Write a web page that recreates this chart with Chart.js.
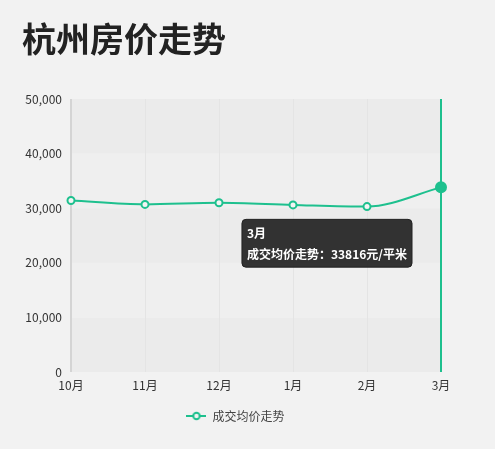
<!DOCTYPE html>
<html>
<head>
<meta charset="utf-8">
<script src="https://cdn.jsdelivr.net/npm/chart.js@4/dist/chart.umd.min.js"></script>
<style>
  body { margin: 0; background: #f2f2f2; }
  #wrap { position: relative; width: 495px; height: 449px; }
  #title {
    position: absolute; left: 22px; top: 18px; margin: 0;
    font: bold 34px "Noto Sans CJK SC", sans-serif; color: #222; line-height: 1.2;
  }
  #chart { position: absolute; left: 0; top: 0; }
</style>
</head>
<body>
<div id="wrap">
  <canvas id="chart" width="495" height="449"></canvas>
  <h1 id="title">杭州房价走势</h1>
</div>
<script>
const months = ["10月", "11月", "12月", "1月", "2月", "3月"];
const avgPrice = [31400, 30700, 31000, 30600, 30300, 33816];
const yTicks = [0, 10000, 20000, 30000, 40000, 50000];
const seriesName = "成交均价走势";
const unit = "元/平米";
const activeIndex = 5;

const green = "#1ec08e";
const font = "'Noto Sans CJK SC', sans-serif";

// legend icon: short line with a hollow circle
function legendIcon() {
  const c = document.createElement("canvas");
  c.width = 20;
  c.height = 10;
  const g = c.getContext("2d");
  g.strokeStyle = green;
  g.lineWidth = 2;
  g.beginPath();
  g.moveTo(0, 5); g.lineTo(6, 5);
  g.moveTo(14, 5); g.lineTo(20, 5);
  g.stroke();
  g.beginPath();
  g.arc(10, 5, 3.2, 0, Math.PI * 2);
  g.fillStyle = "#f2f2f2";
  g.fill();
  g.stroke();
  return c;
}

// alternating bands, vertical grid lines and the crosshair
const bandsPlugin = {
  id: "bands",
  afterLayout(chart) {
    // let the y labels use the room left of the axis box
    chart.scales.y.left = 0;
  },
  beforeDatasetsDraw(chart) {
    const { ctx, chartArea, scales } = chart;
    const y = scales.y;
    const x = scales.x;
    ctx.save();
    for (let i = 0; i < yTicks.length - 1; i++) {
      const top = y.getPixelForValue(yTicks[i + 1]);
      const bottom = y.getPixelForValue(yTicks[i]);
      ctx.fillStyle = i % 2 == 0 ? "#ebebeb" : "#efefef";
      ctx.fillRect(chartArea.left, top, chartArea.right - chartArea.left, bottom - top);
    }
    ctx.strokeStyle = "#e4e4e4";
    ctx.lineWidth = 1;
    months.forEach((m, i) => {
      const px = Math.round(x.getPixelForValue(i)) + 0.5;
      ctx.beginPath();
      ctx.moveTo(px, chartArea.top);
      ctx.lineTo(px, chartArea.bottom);
      ctx.stroke();
    });
    // y axis line
    ctx.strokeStyle = "#d4d4d4";
    ctx.lineWidth = 2;
    ctx.beginPath();
    ctx.moveTo(chartArea.left, chartArea.top);
    ctx.lineTo(chartArea.left, chartArea.bottom);
    ctx.stroke();
    // crosshair
    const active = chart.getActiveElements();
    if (active.length) {
      const px = active[0].element.x;
      ctx.strokeStyle = green;
      ctx.lineWidth = 2;
      ctx.beginPath();
      ctx.moveTo(px, chartArea.top);
      ctx.lineTo(px, chartArea.bottom);
      ctx.stroke();
    }
    ctx.restore();
  },
};

Chart.Tooltip.positioners.offsetLeft = function (elements) {
  if (!elements.length) return false;
  const el = elements[0].element;
  return { x: el.x - 33, y: el.y + 32 };
};

const chart = new Chart(document.getElementById("chart"), {
  type: "line",
  data: {
    labels: months,
    datasets: [
      {
        label: seriesName,
        data: avgPrice,
        borderColor: green,
        borderWidth: 2,
        backgroundColor: "#f4f4f4",
        pointRadius: 3.5,
        pointBorderWidth: 2,
        pointHoverRadius: 5,
        pointHoverBorderWidth: 2,
        pointHoverBackgroundColor: green,
        pointHoverBorderColor: green,
        cubicInterpolationMode: "monotone",
        fill: false,
      },
    ],
  },
  options: {
    responsive: false,
    animation: false,
    events: [],
    layout: { padding: { top: 99, right: 54, bottom: 17, left: 30 } },
    interaction: { mode: "index", intersect: false },
    scales: {
      x: {
        offset: false,
        afterFit(scale) { scale.height = 28; },
        grid: { display: false, drawTicks: false },
        border: { display: false },
        ticks: { color: "#333", font: { family: font, size: 12 }, padding: 6 },
      },
      y: {
        min: 0,
        max: 50000,
        afterFit(scale) { scale.width = 41; },
        afterBuildTicks(scale) { scale.ticks = yTicks.map((v) => ({ value: v })); },
        grid: { display: false, drawTicks: false },
        border: { display: false },
        ticks: {
          color: "#333",
          font: { family: font, size: 12 },
          padding: 9,
          callback: (v) => v.toLocaleString("en-US"),
        },
      },
    },
    plugins: {
      legend: {
        position: "bottom",
        labels: {
          usePointStyle: true,
          pointStyle: legendIcon(),
          pointStyleWidth: 20,
          color: "#444",
          font: { family: font, size: 12 },
          padding: 10,
        },
      },
      tooltip: {
        position: "offsetLeft",
        xAlign: "right",
        yAlign: "top",
        caretSize: 0,
        caretPadding: 0,
        cornerRadius: 4,
        backgroundColor: "rgba(40,40,40,0.95)",
        borderColor: "#222",
        borderWidth: 1,
        displayColors: false,
        padding: { left: 5, right: 5, top: 7, bottom: 6 },
        titleFont: { family: font, size: 12, weight: "bold" },
        bodyFont: { family: font, size: 12, weight: "bold" },
        titleMarginBottom: 6,
        callbacks: {
          label: (item) => `${seriesName}：${item.raw}${unit}`,
        },
      },
    },
  },
  plugins: [bandsPlugin],
});

const active = [{ datasetIndex: 0, index: activeIndex }];
chart.setActiveElements(active);
chart.tooltip.setActiveElements(active, { x: 0, y: 0 });
chart.update();
</script>
</body>
</html>
